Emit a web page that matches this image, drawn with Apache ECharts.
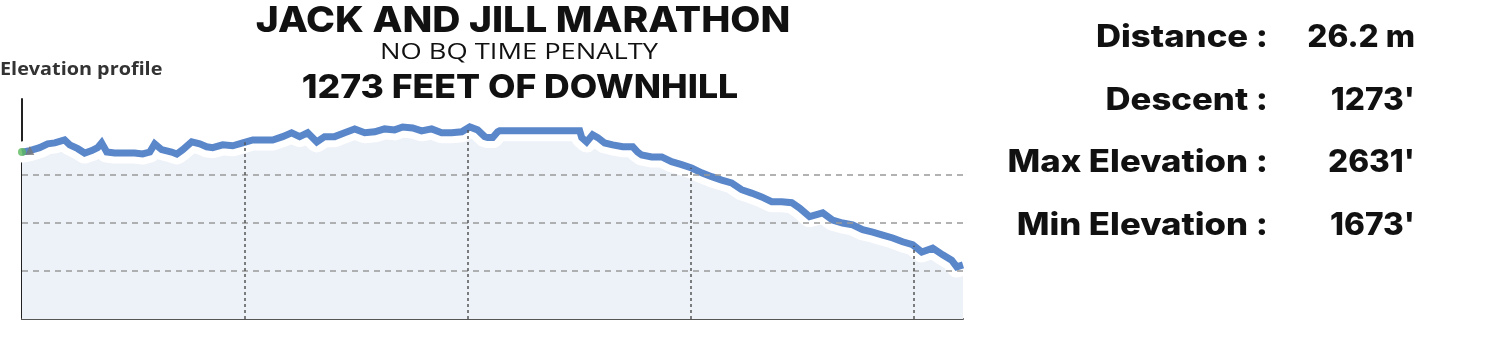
<!DOCTYPE html>
<html>
<head>
<meta charset="utf-8">
<script src="https://cdn.jsdelivr.net/npm/echarts@6/dist/echarts.min.js"></script>
<style>
html,body{margin:0;padding:0;background:#fff;}
#chart{width:1490px;height:350px;}
</style>
</head>
<body>
<div id="chart"></div>
<script>
// ---- data (distance in km, elevation in metres) ----
const distanceKm = [0.0,0.35,0.79,1.15,1.47,1.91,2.14,2.50,2.81,3.13,3.39,3.57,3.80,4.16,4.61,5.05,5.41,5.73,5.95,6.26,6.71,6.94,7.21,7.61,7.97,8.28,8.55,9.00,9.45,9.90,10.35,10.79,11.24,11.69,12.09,12.45,12.81,13.22,13.57,14.02,14.47,14.92,15.37,15.82,16.26,16.71,17.07,17.52,17.92,18.37,18.82,19.27,19.72,20.08,20.43,20.75,20.88,21.11,21.33,21.42,25.01,25.10,25.32,25.59,25.82,26.13,26.49,26.94,27.39,27.61,27.79,28.24,28.69,29.13,29.58,30.03,30.48,30.93,31.38,31.82,32.27,32.72,33.17,33.62,34.07,34.52,34.87,35.32,35.91,36.35,36.80,37.25,37.70,38.15,38.60,39.05,39.49,39.94,40.35,40.84,41.29,41.69,41.92,42.2];
const elevationM = [746,749,755,763,765,771,761,753,744,749,755,765,746,744,744,744,742,746,763,751,746,742,751,767,763,757,755,761,759,765,771,771,771,778,786,778,786,767,778,778,786,794,786,788,794,792,798,796,790,794,786,786,788,798,792,778,776,776,788,790,790,776,767,782,776,765,761,757,757,746,740,736,736,726,720,713,703,695,688,682,668,661,653,643,643,641,630,612,620,605,599,595,585,580,574,568,560,554,539,547,533,522,508,512];
const gridLevelsM = [500, 600, 700];
const kmMarks = [10, 20, 30, 40];
const titleLines = ['JACK AND JILL MARATHON', 'NO BQ TIME PENALTY', '1273 FEET OF DOWNHILL'];
const chartLabel = 'Elevation profile';
const statLabels = ['Distance :', 'Descent :', 'Max Elevation :', 'Min Elevation :'];
const statValues = ['26.2 m', "1273'", "2631'", "1673'"];

const profile = distanceKm.map((d, i) => [d, elevationM[i]]);

function elevAt(km) {
  for (let i = 1; i < distanceKm.length; i++) {
    if (distanceKm[i] >= km) {
      const t = (km - distanceKm[i-1]) / (distanceKm[i] - distanceKm[i-1]);
      return elevationM[i-1] + t * (elevationM[i] - elevationM[i-1]);
    }
  }
  return elevationM[elevationM.length - 1];
}

const Y_MIN = 400, Y_MAX = 856;

const vLines = kmMarks.map(k => [
  {coord: [k, Y_MIN]},
  {coord: [k, elevAt(k)]}
]);
const hLines = gridLevelsM.map(v => ({yAxis: v}));

const chart = echarts.init(document.getElementById('chart'), null, {renderer: 'canvas'});

const titleFont = 'Inter';
const graphics = [
  {type:'text', x: 0, y: 70, style:{text: chartLabel, font: '700 18px "Open Sans"', fill:'#333', textVerticalAlign:'middle'}, scaleX: 1.1},
  {type:'text', x: 523, y: 21, scaleX: 1.083, style:{text: titleLines[0], font: '800 36px ' + titleFont, fill:'#111', textAlign:'center', textVerticalAlign:'middle'}},
  {type:'text', x: 519, y: 53, scaleX: 1.24, style:{text: titleLines[1], font: '400 22px "Open Sans"', fill:'#111', textAlign:'center', textVerticalAlign:'middle'}},
  {type:'text', x: 520, y: 88, scaleX: 1.079, style:{text: titleLines[2], font: '800 33px ' + titleFont, fill:'#111', textAlign:'center', textVerticalAlign:'middle'}}
];
const rowY = [38, 101, 163, 226];
statLabels.forEach((s, i) => {
  graphics.push({type:'text', x: 1268, y: rowY[i], scaleX: 1.12, style:{text: s, font: '800 31px ' + titleFont, fill:'#111', textAlign:'right', textVerticalAlign:'middle'}});
  graphics.push({type:'text', x: 1415, y: rowY[i], scaleX: 1.02, style:{text: statValues[i], font: '800 31px ' + titleFont, fill:'#111', textAlign:'right', textVerticalAlign:'middle'}});
});

chart.setOption({
  animation: false,
  backgroundColor: '#ffffff',
  grid: {left: 22, right: 527, top: 99, bottom: 31, containLabel: false},
  xAxis: {
    type: 'value', min: 0, max: 42.2,
    axisLine: {show: true, lineStyle: {color: '#555', width: 2}},
    axisTick: {show: false}, axisLabel: {show: false}, splitLine: {show: false}
  },
  yAxis: {
    type: 'value', min: Y_MIN, max: Y_MAX,
    axisLine: {show: true, lineStyle: {color: '#222', width: 2}},
    axisTick: {show: false}, axisLabel: {show: false}, splitLine: {show: false}
  },
  graphic: graphics,
  series: [
    {
      name: 'fill', type: 'line', data: profile, z: 1, symbol: 'none', silent: true,
      lineStyle: {width: 0, opacity: 0},
      areaStyle: {color: '#edf1f8', opacity: 1}
    },
    {
      name: 'grid', type: 'line', data: [], z: 2, symbol: 'none', silent: true,
      markLine: {
        silent: true, symbol: 'none', label: {show: false}, animation: false,
        data: hLines.map(h => Object.assign({lineStyle: {color: '#999', type: [6, 5], width: 1.5}}, h))
          .concat(vLines.map(v => [Object.assign({lineStyle: {color: '#555', type: [3, 3], width: 1.5}}, v[0]), v[1]]))
      }
    },
    {
      name: 'gap', type: 'line', data: profile, z: 3, symbol: 'none', silent: true,
      lineStyle: {color: '#ffffff', width: 21, join: 'round', cap: 'round'}
    },
    {
      name: 'elevation', type: 'line', data: profile, z: 4, symbol: 'none',
      lineStyle: {color: '#5a86ca', width: 7, join: 'miter'}
    },
    {
      name: 'markers', type: 'scatter', z: 5, silent: true,
      data: [
        {value: profile[0], symbol: 'circle', symbolSize: 8, itemStyle: {color: '#5cb85c'}},
        {value: profile[1], symbol: 'triangle', symbolSize: 9, itemStyle: {color: '#777'}}
      ]
    }
  ]
});
</script>
</body>
</html>
